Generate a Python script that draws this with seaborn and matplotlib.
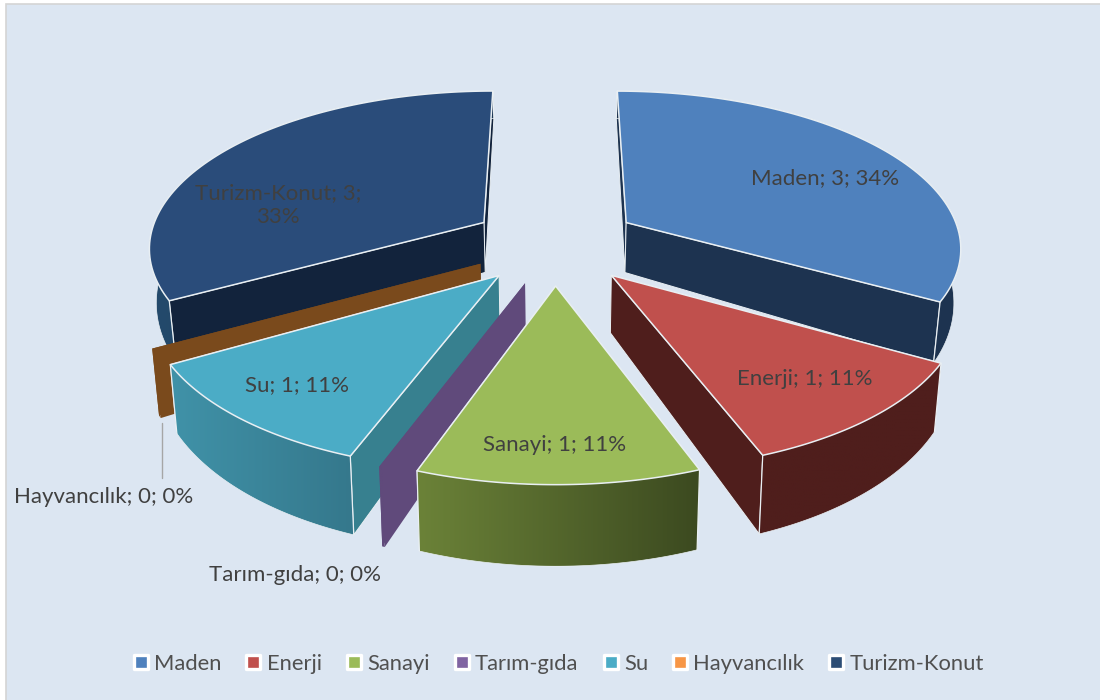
import numpy as np
import matplotlib
matplotlib.use("Agg")
import matplotlib.pyplot as plt
from matplotlib.patches import Polygon, Rectangle
from matplotlib.lines import Line2D
from matplotlib.markers import MarkerStyle
import seaborn as sns

categories = ["Maden", "Enerji", "Sanayi", "Tarım-gıda", "Su", "Hayvancılık", "Turizm-Konut"]
values = [3, 1, 1.02, 0.01, 1, 0.02, 2.99]
point_labels = ["Maden; 3; 34%", "Enerji; 1; 11%", "Sanayi; 1; 11%", "Tarım-gıda; 0; 0%",
                "Su; 1; 11%", "Hayvancılık; 0; 0%", "Turizm-Konut; 3;\n33%"]
top_colors = ["#4f81bd", "#c0504d", "#9bbb59", "#604a7b", "#4bacc6", "#7a4a1c", "#2a4c7a"]
legend_colors = ["#4f81bd", "#c0504d", "#9bbb59", "#8064a2", "#4bacc6", "#f79646", "#2c4d75"]
wall_colors = ["#1d3350", "#4f1e1c", "#3c4a20", "#604a7b", "#37808f", "#7a4a1c", "#12233c"]
outer_left = ["#1d3350", "#4f1e1c", "#6b8238", "#604a7b", "#4092a8", "#7a4a1c", "#244a6c"]
outer_right = ["#1d3350", "#4f1e1c", "#3c4a20", "#604a7b", "#35788c", "#7a4a1c", "#1c3654"]
label_xy = [(825, 178), (805, 379), (555, 445), (295, 575), (297, 385), (104, 497), (278, 205)]

CX, CY, A, B, P = 555.0, 243.0, 336.0, 156.0, 0.145
DEPTH, DEPTH_SLOPE, SHRINK = 53.0, 22.6, 0.017
EXPLODE_X, EXPLODE_Y = 0.25, 0.265
EDGE = "#e9eff3"
TEXT = "#404040"

sns.set_theme(style="white")
plt.rcParams["font.family"] = ["Lato", "DejaVu Sans"]


def project(X, Y, down=False):
    w = 1 + P * Y
    sx = CX + A * X / w
    sy = CY - B * Y / w
    if down:
        sx = CX + (sx - CX) * (1 - SHRINK)
        sy = sy + DEPTH - DEPTH_SLOPE * Y
    return np.column_stack([sx, sy])


fig = plt.figure(figsize=(11, 7), dpi=100, facecolor="white")
ax = fig.add_axes([0, 0, 1, 1])
ax.add_patch(Rectangle((6, 4), 1100, 700, facecolor="#dce6f2", edgecolor="#d4d4d4", lw=1.2, zorder=0))

shares = np.array(values, dtype=float) / np.sum(values)
ends = np.cumsum(shares) * 2 * np.pi
starts = ends - shares * 2 * np.pi
mids = (starts + ends) / 2
order = np.argsort(-np.cos(mids))

z = 1
for i in order:
    sliver = shares[i] < 0.01
    ox, oy = EXPLODE_X * np.sin(mids[i]), EXPLODE_Y * np.cos(mids[i])
    th = np.linspace(starts[i], ends[i], 90)
    X, Y = ox + np.sin(th), oy + np.cos(th)
    top_arc = project(X, Y)
    low_arc = project(X, Y, True)
    apex = project(np.array([ox]), np.array([oy]))
    apex_low = project(np.array([ox]), np.array([oy]), True)
    edge = "none" if sliver else EDGE

    # radial walls: the one turned away from the viewer first
    walls = sorted([(-np.sin(th[0]), 0), (np.sin(th[-1]), -1)])
    for _, idx in walls:
        wall = np.vstack([apex, top_arc[idx], low_arc[idx], apex_low])
        ax.add_patch(Polygon(wall, closed=True, facecolor=wall_colors[i], edgecolor=edge, lw=0.7, zorder=z))
    z += 1

    # outer wall with its horizontal gradient
    outline = np.vstack([top_arc, low_arc[::-1]])
    clip = Polygon(outline, closed=True, transform=ax.transData, facecolor="none", edgecolor="none")
    ax.add_patch(clip)
    ramp = sns.blend_palette([outer_left[i], outer_right[i]], 64, as_cmap=True)
    im = ax.imshow(np.linspace(0, 1, 64)[None, :], cmap=ramp, aspect="auto", interpolation="bilinear",
                   extent=(outline[:, 0].min(), outline[:, 0].max(), outline[:, 1].max(), outline[:, 1].min()),
                   zorder=z)
    im.set_clip_path(clip)
    z += 1
    if not sliver:
        ax.plot(*low_arc.T, color=EDGE, lw=0.5, zorder=z)
        for idx in (0, -1):
            ax.plot([top_arc[idx][0], low_arc[idx][0]], [top_arc[idx][1], low_arc[idx][1]],
                    color=EDGE, lw=0.9, zorder=z)
    z += 1
    # top face
    ax.add_patch(Polygon(np.vstack([apex, top_arc]), closed=True, facecolor=top_colors[i],
                         edgecolor=edge, lw=1.1, joinstyle="round", zorder=z))
    z += 1

z += 1
ax.plot([162, 162], [423, 478], color="#a6a6a6", lw=1.0, zorder=z)
for lab, (x, y) in zip(point_labels, label_xy):
    ax.text(x, y, lab, ha="center", va="center", fontsize=16, color=TEXT, zorder=z, linespacing=1.2)

marker = MarkerStyle("s", joinstyle="round")
handles = [Line2D([], [], linestyle="none", marker=marker, markersize=9.6, markerfacecolor=c,
                  markeredgecolor="white", markeredgewidth=2.4) for c in legend_colors]
leg = ax.legend(handles, categories, loc="center", bbox_to_anchor=(559 / 1100, 1 - 664 / 700), ncol=7,
                frameon=False, fontsize=15.8, labelcolor="#505050", handlelength=0.6, handletextpad=0.3,
                columnspacing=1.17, borderpad=0)
leg.set_zorder(z)

ax.set_xlim(0, 1100)
ax.set_ylim(700, 0)
ax.axis("off")
fig.savefig("out.png", dpi=100)
